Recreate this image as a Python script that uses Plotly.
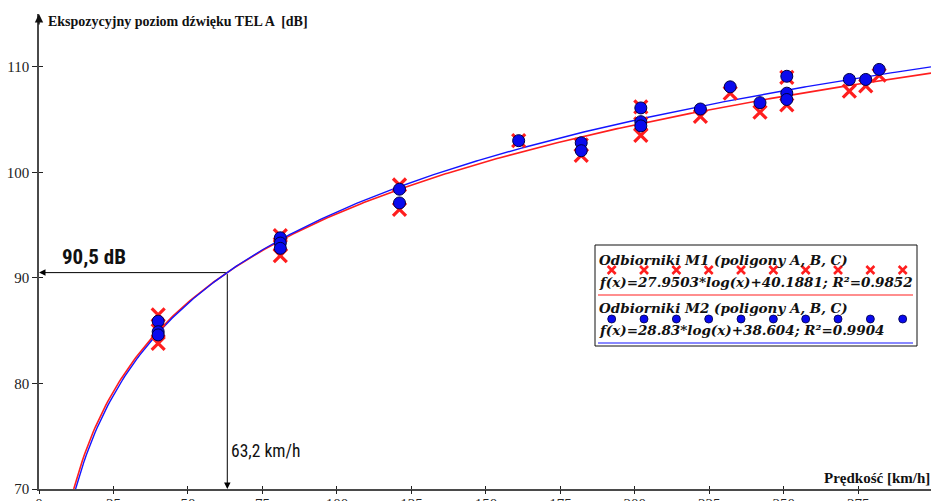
import numpy as np
import plotly.graph_objects as go

# ---------------- data ----------------
speed_m1 = [40, 40, 40, 81, 81, 81, 121, 121, 161, 182, 182, 202, 202, 202,
            222, 232, 242, 251, 251, 272, 277.5, 282]
level_m1 = [86.5, 85.0, 83.8, 94.0, 93.2, 92.1, 98.8, 96.5, 103.0, 102.6, 101.6,
            106.2, 104.6, 103.5, 105.3, 107.5, 105.7, 109.0, 106.4, 107.7, 108.2, 109.2]

speed_m2 = [40, 40, 40, 81, 81, 81, 121, 121, 161, 182, 182, 202, 202, 202,
            222, 232, 242, 251, 251, 251, 272, 277.5, 282]
level_m2 = [85.9, 84.9, 84.6, 93.8, 93.3, 92.8, 98.4, 97.1, 103.0, 102.8, 102.05,
            106.1, 104.8, 104.4, 106.0, 108.1, 106.6, 109.1, 107.5, 106.9, 108.8, 108.8, 109.75]

fit_m1 = [27.9503, 40.1881]   # f(x) = a*log10(x) + b
fit_m2 = [28.83, 38.604]

x_ticks = [0, 25, 50, 75, 100, 125, 150, 175, 200, 225, 250, 275, 300]
y_ticks = [70, 80, 90, 100, 110]

label_m1 = "Odbiorniki M1 (poligony A, B, C)"
label_m2 = "Odbiorniki M2 (poligony A, B, C)"
eq_m1 = "f(x)=27.9503*log(x)+40.1881; R²=0.9852"
eq_m2 = "f(x)=28.83*log(x)+38.604; R²=0.9904"
read_level = 90.5
read_speed = 63.2

# ---------------- layout constants ----------------
W, H = 931, 501
ML, MT, MR, MB = 39, 14, 0, 12
X_RANGE = [0, 299.4]
Y_RANGE = [70, 115]

RED = "rgb(255,30,30)"
BLUE = "rgb(20,20,255)"
AX = "#4a4a4a"
SERIF = "Liberation Serif, Times New Roman, serif"
DSERIF = "DejaVu Serif, serif"
NARROW = "Liberation Sans Narrow, Arial Narrow, Roboto Condensed, Liberation Sans, sans-serif"


def fit_curve(coef):
    a, b = coef
    x0 = 10 ** ((Y_RANGE[0] - b) / a)
    xs = np.linspace(x0, X_RANGE[1], 400)
    return xs, a * np.log10(xs) + b


fig = go.Figure()

xs1, ys1 = fit_curve(fit_m1)
xs2, ys2 = fit_curve(fit_m2)
fig.add_trace(go.Scatter(x=xs1, y=ys1, mode="lines", line=dict(color=RED, width=1.6),
                         hoverinfo="skip"))
fig.add_trace(go.Scatter(x=xs2, y=ys2, mode="lines", line=dict(color=BLUE, width=1.4),
                         hoverinfo="skip"))
fig.add_trace(go.Scatter(x=speed_m1, y=level_m1, mode="markers",
                         marker=dict(symbol="x-thin", size=13, line=dict(color=RED, width=3.2))))
fig.add_trace(go.Scatter(x=speed_m2, y=level_m2, mode="markers",
                         marker=dict(symbol="circle", size=12, color="#0a0aee",
                                     line=dict(color="#000044", width=1))))

# dummy traces for crossing ticks
fig.add_trace(go.Scatter(x=[], y=[], xaxis="x2", yaxis="y2"))
fig.add_trace(go.Scatter(x=[], y=[], xaxis="x4", yaxis="y2"))

# legend sample markers on pixel overlay axes
lx = np.linspace(611.7, 902.7, 10)
fig.add_trace(go.Scatter(x=lx, y=[270] * 10, xaxis="x3", yaxis="y3", mode="markers",
                         marker=dict(symbol="x-thin", size=8, line=dict(color=RED, width=2.6))))
fig.add_trace(go.Scatter(x=lx, y=[319] * 10, xaxis="x3", yaxis="y3", mode="markers",
                         marker=dict(symbol="circle", size=8, color="#0a0aee",
                                     line=dict(color="#000044", width=0.8))))

tickfont = dict(family=SERIF, size=15, color="#222")
fig.update_layout(
    width=W, height=H,
    margin=dict(l=ML, r=MR, t=MT, b=MB, pad=0, autoexpand=False),
    paper_bgcolor="white", plot_bgcolor="white",
    showlegend=False,
    xaxis=dict(range=X_RANGE, tickvals=x_ticks, ticks="", automargin=False,
               showline=True, linecolor=AX, linewidth=1.6,
               showgrid=False, zeroline=False, tickfont=tickfont),
    yaxis=dict(range=Y_RANGE, tickvals=y_ticks, ticks="outside", ticklen=5, automargin=False,
               tickcolor="#222", tickwidth=1.2, showline=True, linecolor=AX, linewidth=1.6,
               showgrid=False, zeroline=False, tickfont=tickfont),
    xaxis2=dict(overlaying="x", matches="x", anchor="y", side="bottom", range=X_RANGE,
                tickvals=x_ticks, ticks="inside", ticklen=3, tickcolor="#222", tickwidth=1.2,
                automargin=False,
                showticklabels=False, showgrid=False, zeroline=False, showline=False),
    xaxis4=dict(overlaying="x", matches="x", anchor="y", side="bottom", range=X_RANGE,
                tickvals=x_ticks, ticks="outside", ticklen=4, tickcolor="#222", tickwidth=1.2,
                automargin=False,
                showticklabels=False, showgrid=False, zeroline=False, showline=False),
    yaxis2=dict(overlaying="y", matches="y", anchor="x", side="left", range=Y_RANGE,
                tickvals=y_ticks, ticks="inside", ticklen=4, tickcolor="#222", tickwidth=1.2,
                automargin=False,
                showticklabels=False, showgrid=False, zeroline=False, showline=False),
    xaxis3=dict(overlaying="x", anchor="y3", range=[ML, W - MR], visible=False,
                automargin=False),
    yaxis3=dict(overlaying="y", anchor="x3", range=[H - MB, MT], visible=False,
                automargin=False),
)

shapes = [
    dict(type="rect", xref="x3", yref="y3", x0=595, y0=245, x1=917, y1=346,
         line=dict(color="#111", width=1), fillcolor="white", layer="below"),
    dict(type="line", xref="x3", yref="y3", x0=598, x1=913, y0=295, y1=295,
         line=dict(color=RED, width=1.2)),
    dict(type="line", xref="x3", yref="y3", x0=598, x1=913, y0=343, y1=343,
         line=dict(color=BLUE, width=1.2)),
]
fig.update_layout(shapes=shapes)

leg_font = dict(family=DSERIF, size=13.5, color="#111")
ann = [
    # y axis arrow
    dict(x=0, xref="x", y=1, yref="paper", ax=0, ay=12, text="", showarrow=True,
         arrowhead=2, arrowsize=1.2, arrowwidth=1.4, arrowcolor="#111"),
    # reading lines
    dict(x=0, y=read_level, xref="x", yref="y", ax=read_speed, ay=read_level,
         axref="x", ayref="y", text="", showarrow=True, arrowhead=2, arrowsize=1.3,
         arrowwidth=1, arrowcolor="#000"),
    dict(x=read_speed, y=Y_RANGE[0], xref="x", yref="y", ax=read_speed, ay=read_level,
         axref="x", ayref="y", text="", showarrow=True, arrowhead=2, arrowsize=1.3,
         arrowwidth=1, arrowcolor="#000"),
    dict(x=60, y=257, xref="x3", yref="y3", xanchor="left", yanchor="middle",
         text="<b>90,5 dB</b>", showarrow=False,
         font=dict(family=NARROW, size=21, color="#111")),
    dict(x=229, y=451, xref="x3", yref="y3", xanchor="left", yanchor="middle",
         text="63,2 km/h", showarrow=False,
         font=dict(family=NARROW, size=17.5, color="#111")),
    # axis titles
    dict(x=46, y=21, xref="x3", yref="y3", xanchor="left", yanchor="middle",
         text="<b>Ekspozycyjny poziom dźwięku TEL A  [dB]</b>", showarrow=False,
         font=dict(family=SERIF, size=14, color="#111")),
    dict(x=822, y=478, xref="x3", yref="y3", xanchor="left", yanchor="middle",
         text="<b>Prędkość [km/h]</b>", showarrow=False,
         font=dict(family=SERIF, size=15, color="#111")),
    # legend texts
    dict(x=597, y=260, xref="x3", yref="y3", xanchor="left", yanchor="middle",
         text="<b><i>" + label_m1 + "</i></b>", showarrow=False, font=leg_font),
    dict(x=597, y=282, xref="x3", yref="y3", xanchor="left", yanchor="middle",
         text="<b><i>" + eq_m1 + "</i></b>", showarrow=False, font=leg_font),
    dict(x=597, y=308, xref="x3", yref="y3", xanchor="left", yanchor="middle",
         text="<b><i>" + label_m2 + "</i></b>", showarrow=False, font=leg_font),
    dict(x=597, y=330, xref="x3", yref="y3", xanchor="left", yanchor="middle",
         text="<b><i>" + eq_m2 + "</i></b>", showarrow=False, font=leg_font),
]
fig.update_layout(annotations=ann)

fig.write_html("out.html", config={"displayModeBar": False},
               post_script="document.body.style.margin='0';document.body.style.padding='0';")
